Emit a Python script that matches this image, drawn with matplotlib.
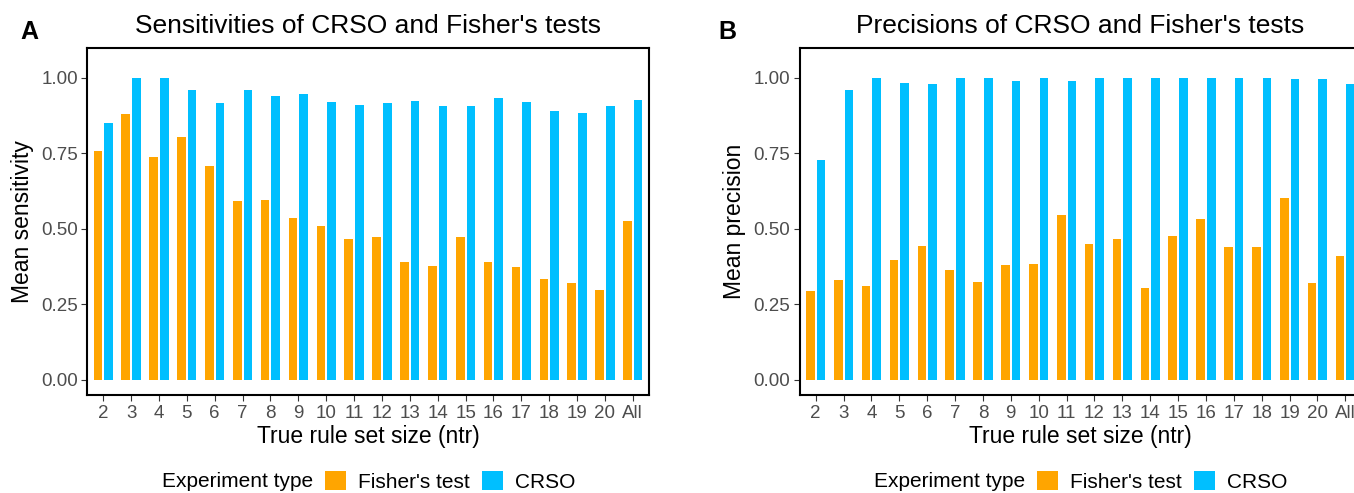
import numpy as np
import matplotlib
matplotlib.use("Agg")
import matplotlib.pyplot as plt
from matplotlib.patches import Patch

plt.rcParams['font.family'] = ['Liberation Sans', 'DejaVu Sans']

# --- data ---
categories = [str(i) for i in range(2, 21)] + ["All"]

sens_fisher = [0.757, 0.880, 0.738, 0.804, 0.708, 0.592, 0.595, 0.536, 0.509, 0.466,
               0.473, 0.390, 0.377, 0.473, 0.390, 0.374, 0.334, 0.321, 0.298, 0.526]
sens_crso = [0.850, 1.000, 1.000, 0.959, 0.916, 0.959, 0.939, 0.946, 0.920, 0.910,
             0.916, 0.923, 0.906, 0.906, 0.933, 0.920, 0.890, 0.883, 0.906, 0.926]

prec_fisher = [0.294, 0.331, 0.311, 0.397, 0.443, 0.364, 0.324, 0.380, 0.384, 0.546,
               0.450, 0.466, 0.304, 0.476, 0.533, 0.440, 0.440, 0.602, 0.321, 0.410]
prec_crso = [0.728, 0.959, 1.000, 0.982, 0.979, 1.000, 1.000, 0.989, 1.000, 0.989,
             1.000, 1.000, 1.000, 1.000, 1.000, 1.000, 1.000, 0.996, 0.996, 0.979]

yticks = [0.0, 0.25, 0.5, 0.75, 1.0]

ORANGE = "#FFA500"
BLUE = "#00BFFF"
W, H = 1354, 493

fig = plt.figure(figsize=(W / 100, H / 100), dpi=100)


def px_rect(left, top, right, bottom):
    return [left / W, 1 - bottom / H, (right - left) / W, (bottom - top) / H]


def draw_panel(rect, fisher, crso, title, ylabel, letter, letter_x):
    ax = fig.add_axes(rect)
    x = np.arange(len(categories))
    ax.bar(x - 0.19, fisher, width=0.31, color=ORANGE, linewidth=0)
    ax.bar(x + 0.19, crso, width=0.31, color=BLUE, linewidth=0)

    ax.set_xlim(-0.58, len(categories) - 1 + 0.58)
    ax.set_ylim(-0.05, 1.0975)
    ax.set_xticks(x)
    ax.set_xticklabels(categories)
    ax.set_yticks(yticks)
    ax.set_yticklabels([f"{v:.2f}" for v in yticks])

    for sp in ax.spines.values():
        sp.set_color("black")
        sp.set_linewidth(1.5)
    ax.tick_params(axis="both", length=4.3, width=0.8, color="#333333",
                   labelcolor="#4D4D4D", labelsize=13.5)
    ax.tick_params(axis="x", pad=3)
    ax.tick_params(axis="y", pad=2.2)

    ax.set_title(title, fontsize=19, pad=11)
    ax.set_xlabel("True rule set size (ntr)", fontsize=16.5)
    ax.xaxis.set_label_coords(0.5, -0.1385)
    ax.xaxis.label.set_va("baseline")
    ax.set_ylabel(ylabel, fontsize=16.5)
    ax.yaxis.label.set_va("center")
    ax.yaxis.set_label_coords(-0.115, 0.5)

    fig.text(letter_x / W, 1 - 39 / H, letter, fontsize=18, fontweight="bold",
             ha="left", va="baseline")
    return ax


ax1 = draw_panel(px_rect(87, 48.3, 649, 395), sens_fisher, sens_crso,
                 "Sensitivities of CRSO and Fisher's tests", "Mean sensitivity", "A", 20)
ax2 = draw_panel(px_rect(799.5, 48.3, 1361.5, 395), prec_fisher, prec_crso,
                 "Precisions of CRSO and Fisher's tests", "Mean precision", "B", 718)

# legends (one under each panel)
handles = [Patch(facecolor=ORANGE, edgecolor="none"), Patch(facecolor=BLUE, edgecolor="none")]
labels = ["Fisher's test", "CRSO"]
for title_x, key_x in [(162, 325), (874, 1037)]:
    yc = 1 - 481.5 / H
    fig.text(title_x / W, yc, "Experiment type", fontsize=15, ha="left", va="center")
    fig.legend(handles, labels, loc="center left", bbox_to_anchor=(key_x / W, yc),
               ncol=2, frameon=False, fontsize=15, borderpad=0, borderaxespad=0,
               handlelength=1.0, handleheight=1.0, handletextpad=0.58, columnspacing=0.58)

fig.savefig("out.png", dpi=100)
